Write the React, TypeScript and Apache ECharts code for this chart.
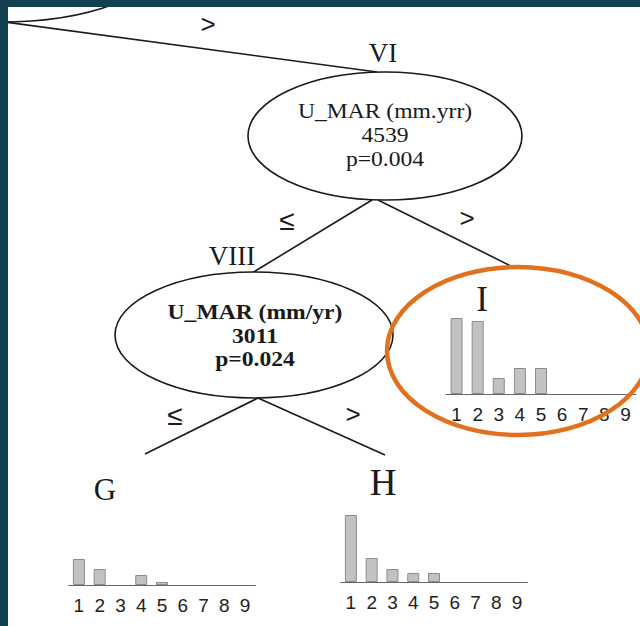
import React, { useEffect, useRef } from "react";
import * as echarts from "echarts";

const categories = ["1", "2", "3", "4", "5", "6", "7", "8", "9"];
const valuesI = [76, 73, 16, 26, 26, 0, 0, 0, 0];
const valuesG = [26, 16, 0, 10, 3, 0, 0, 0, 0];
const valuesH = [67, 24, 13, 9, 9, 0, 0, 0, 0];
const nodeVI = ["U_MAR (mm.yrr)", "4539", "p=0.004"];
const nodeVIII = ["U_MAR (mm/yr)", "3011", "p=0.024"];

const SERIF = "'Liberation Serif', 'Times New Roman', serif";
const SANS = "'Liberation Sans', Arial, sans-serif";
const INK = "#1a1a1a";

export default function App() {
  const ref = useRef<HTMLDivElement>(null);
  useEffect(() => {
    const chart = echarts.init(ref.current!, null, { renderer: "svg" });

    const grids = [
      { left: 446, top: 314, width: 190, height: 80 },
      { left: 68.5, top: 505, width: 187, height: 80 },
      { left: 340.5, top: 502, width: 187, height: 80 },
    ];
    const datasets = [valuesI, valuesG, valuesH];

    const txt = (
      text: string,
      x: number,
      y: number,
      size: number,
      opts: any = {}
    ) => ({
      type: "text",
      x,
      y,
      scaleX: opts.scaleX ?? 1,
      z: 20,
      style: {
        text,
        x: 0,
        y: 0,
        textAlign: "center",
        textVerticalAlign: "middle",
        fontSize: size,
        fontFamily: opts.family ?? SERIF,
        fontWeight: opts.weight ?? "normal",
        fill: opts.fill ?? INK,
      },
    });
    const ln = (x1: number, y1: number, x2: number, y2: number) => ({
      type: "line",
      z: 10,
      shape: { x1, y1, x2, y2 },
      style: { stroke: INK, lineWidth: 1.6 },
    });
    const ell = (cx: number, cy: number, rx: number, ry: number) => ({
      type: "ellipse",
      z: 11,
      shape: { cx, cy, rx, ry },
      style: { fill: "#fff", stroke: INK, lineWidth: 1.6 },
    });

    const graphics: any[] = [
      ell(0, -38, 160, 60),
      ln(-10, 20, 377, 72),
      ln(372, 200, 252, 273),
      ln(378, 200, 515, 268),
      ln(258, 398, 145, 454),
      ln(258, 398, 385, 455),
      ell(385, 136, 137, 64),
      ell(254, 335, 139, 63),
      {
        type: "ellipse",
        z: 12,
        shape: { cx: 518, cy: 351, rx: 131, ry: 84 },
        style: { fill: "none", stroke: "#e2701c", lineWidth: 4.5 },
      },
      txt(nodeVI[0], 385, 112, 20, { scaleX: 1.18 }),
      txt(nodeVI[1], 385, 136, 20, { scaleX: 1.18 }),
      txt(nodeVI[2], 385, 160, 20, { scaleX: 1.18 }),
      txt(nodeVIII[0], 255, 313, 20, { scaleX: 1.18, weight: "bold" }),
      txt(nodeVIII[1], 255, 337, 20, { scaleX: 1.18, weight: "bold" }),
      txt(nodeVIII[2], 255, 360, 20, { scaleX: 1.18, weight: "bold" }),
      txt("VI", 383, 53, 27),
      txt("VIII", 232, 256, 27),
      txt("I", 482, 299, 35),
      txt("G", 105, 489, 31),
      txt("H", 383, 482, 37),
      txt(">", 208, 24, 26, { family: SANS }),
      txt("\u2264", 287, 220, 28, { family: SANS }),
      txt(">", 467, 218, 26, { family: SANS }),
      txt("\u2264", 175, 415, 28, { family: SANS }),
      txt(">", 353, 414, 26, { family: SANS }),
      {
        type: "rect",
        z: 50,
        shape: { x: 0, y: 0, width: 640, height: 7 },
        style: { fill: "#12404f" },
      },
      {
        type: "rect",
        z: 50,
        shape: { x: 0, y: 0, width: 8, height: 626 },
        style: { fill: "#12404f" },
      },
    ];

    chart.setOption({
      animation: false,
      backgroundColor: "#ffffff",
      grid: grids,
      xAxis: grids.map((_, i) => ({
        type: "category",
        gridIndex: i,
        data: categories,
        axisTick: { show: false },
        axisLine: { lineStyle: { color: "#666", width: 1 } },
        axisLabel: {
          interval: 0,
          margin: 11,
          fontSize: 19,
          fontFamily: SANS,
          color: "#222",
          hideOverlap: false,
        },
        splitLine: { show: false },
      })),
      yAxis: grids.map((_, i) => ({
        type: "value",
        gridIndex: i,
        min: 0,
        max: 80,
        show: false,
      })),
      series: datasets.map((d, i) => ({
        type: "bar",
        xAxisIndex: i,
        yAxisIndex: i,
        data: d.map((v) => (v === 0 ? null : v)),
        barWidth: 12,
        z: 15,
        itemStyle: { color: "#c2c2c2", borderColor: "#8c8c8c", borderWidth: 1 },
      })),
      graphic: { elements: graphics },
    });
    return () => chart.dispose();
  }, []);
  return (
    <div
      ref={ref}
      style={{ position: "absolute", left: 0, top: 0, width: 640, height: 626 }}
    />
  );
}
